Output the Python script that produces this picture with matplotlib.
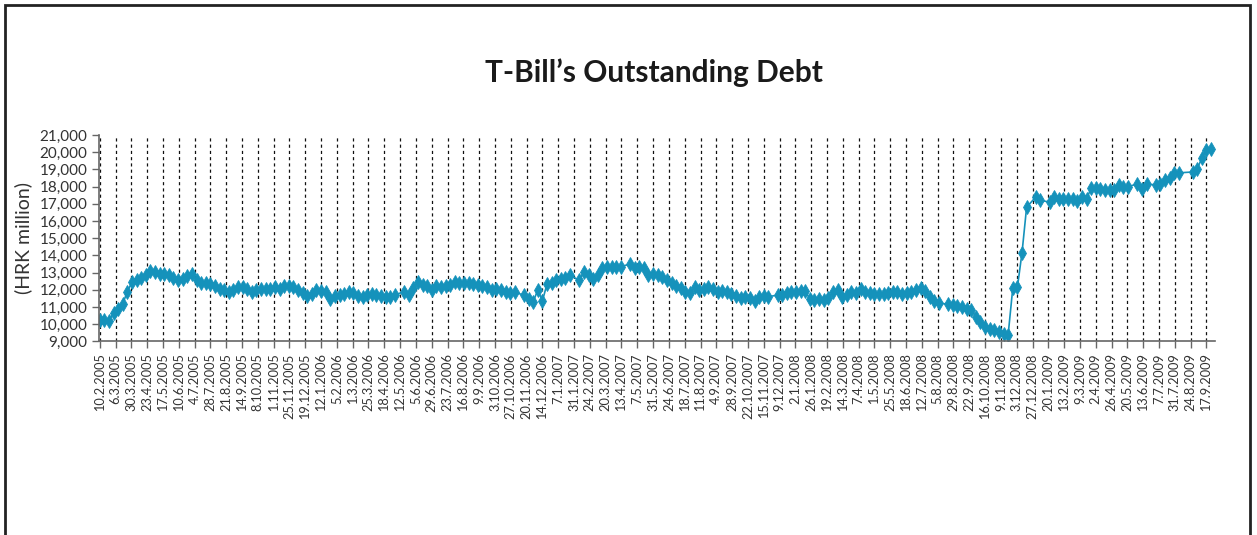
import numpy as np
import pandas as pd
import matplotlib
matplotlib.use("Agg")
import matplotlib.pyplot as plt
import matplotlib.dates as mdates
from matplotlib.ticker import FuncFormatter
from matplotlib.patches import Rectangle

# weekly observations starting 10.2.2005 (None = no auction that week)
start_date = "2005-02-10"
debt = [
    10250, 10250, 10200, 10650, 10900, 11200, 11900, 12450, 12550, 12700,
    12850, 13100, 13050, 12950, 12900, 12850, 12700, 12550, 12650, 12800,
    12900, 12600, 12400, 12400, 12350, 12200, 12050, 12000, 11900, 12000,
    12150, 12150, 12050, 11900, 12000, 12050, 12050, 12050, 12150, 12050,
    12200, 12250, 12150, 12000, 11800, 11650, 11750, 12000, 11950, 11850,
    11450, 11650, 11700, 11750, 11850, 11800, 11650, 11600, 11700, 11750,
    11700, 11650, 11600, 11600, 11700, None, 11900, 11700, 12100, 12450,
    12300, 12250, 12000, 12200, 12150, 12250, 12300, 12450, 12400, 12380,
    12380, 12350, 12300, 12200, 12150, 12000, 12050, 12000, 11900, 11800,
    11850, None, 11700, 11450, 11300, 12000, 11350, 12350, 12400, 12550,
    12650, 12700, 12850, None, 12550, 13050, 12850, 12650, 12850, 13250,
    13300, 13300, 13350, 13350, None, 13500, 13250, 13350, 13250, 12850,
    12950, 12850, 12750, 12600, 12400, 12200, 12100, 11850, 11800, 12150,
    12000, 12050, 12150, 12050, 11900, 11950, 11850, 11750, 11650, 11500,
    11600, 11500, 11350, 11600, 11650, 11600, None, 11700, 11700, 11800,
    11850, 11900, 11950, 11950, 11450, 11400, 11450, 11400, 11500, 11850,
    12000, 11600, 11700, 11850, 11800, 12050, 11900, 11800, 11750, 11750,
    11750, 11800, 11900, 11850, 11750, 11800, 11900, 12000, 12100, 11950,
    11600, 11350, 11250, None, 11150, 11100, 11050, 11000, 10900, 10850,
    10450, 10150, 9850, 9700, 9650, 9550, 9450, 9400, 12100, 12150,
    14150, 16800, None, 17400, 17200, None, 17100, 17400, 17300, 17300,
    17300, 17300, 17150, 17400, 17300, 17900, 17900, 17850, 17800, 17800,
    17800, 18100, 17950, 18000, None, 18150, 17850, 18150, None, 18100,
    18150, 18400, 18500, 18800, 18800, None, None, 18850, 19050, 19650,
    20150, 20200,
]
tick_start = "2005-02-10"
tick_end = "2009-09-17"
y_ticks = list(range(9000, 21001, 1000))

title = "T-Bill’s Outstanding Debt"
y_label = "(HRK million)"

dates = pd.date_range(start_date, periods=len(debt), freq="7D")
s = pd.Series(debt, index=dates, dtype="float").dropna()
tick_dates = pd.date_range(tick_start, tick_end, freq="24D")

plt.rcParams["font.family"] = ["Lato", "DejaVu Sans"]
line_color = "#1592bb"
text_color = "#333333"

fig = plt.figure(figsize=(12.57, 5.35), dpi=100)
fig.patches.append(Rectangle((0.004, -0.02), 0.9905, 1.01, transform=fig.transFigure,
                             fill=False, edgecolor="#222222", linewidth=2))

ax = fig.add_axes([0.0788, 0.3617, 0.8878, 0.386])
ax.plot(s.index, s.values, color=line_color, linewidth=1.2, marker="d",
        markersize=7, markeredgewidth=0.6, markeredgecolor=line_color)

ax.set_ylim(9000, 21000)
ax.set_yticks(y_ticks)
ax.yaxis.set_major_formatter(FuncFormatter(lambda v, p: f"{int(v):,}"))
ax.set_xlim(pd.Timestamp("2005-02-09"), pd.Timestamp("2009-09-30"))
ax.set_xticks(tick_dates)
ax.set_xticklabels([f"{d.day}.{d.month}.{d.year}" for d in tick_dates], rotation=90)

ax.grid(axis="x", color="#111111", linestyle=(0, (2.5, 2.5)), linewidth=0.9)
ax.grid(axis="y", visible=False)
ax.set_axisbelow(True)

for side in ["top", "right"]:
    ax.spines[side].set_visible(False)
for side in ["left", "bottom"]:
    ax.spines[side].set_color("#666666")
    ax.spines[side].set_linewidth(1.2)

ax.tick_params(axis="y", labelsize=11, colors="#666666", labelcolor=text_color, length=5, width=1)
ax.tick_params(axis="x", labelsize=9.2, colors="#666666", labelcolor=text_color, length=5, width=1)

ax.set_ylabel(y_label, fontsize=14, color=text_color, labelpad=5)
fig.text(0.52, 0.865, title, ha="center", va="center", fontsize=21.5, fontweight="bold", color="#1a1a1a")

plt.savefig("out.png", dpi=100)
